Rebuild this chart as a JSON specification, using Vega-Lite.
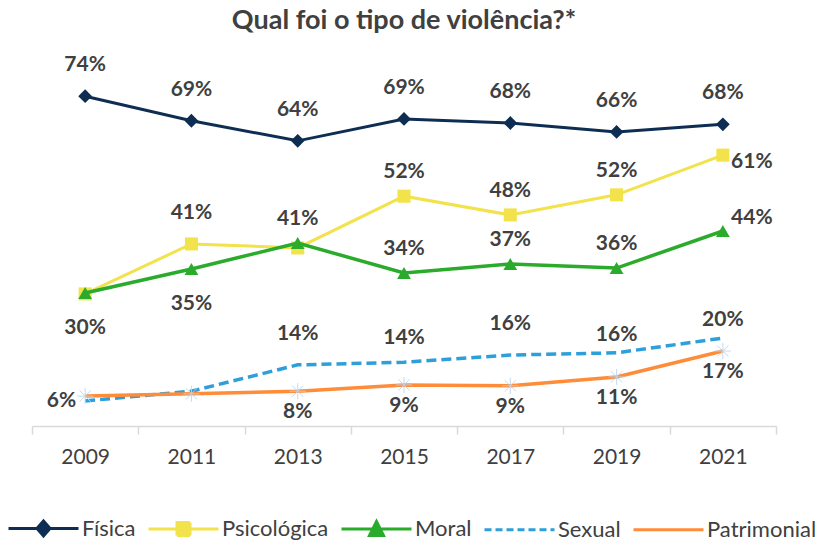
{
  "$schema": "https://vega.github.io/schema/vega-lite/v6.json",
  "width": 744,
  "height": 357,
  "autosize": {"type": "none"},
  "padding": {"left": 32, "top": 69, "right": 45, "bottom": 116},
  "title": {
    "text": "Qual foi o tipo de violência?*",
    "font": "Lato",
    "fontSize": 27,
    "fontWeight": "bold",
    "color": "#404040",
    "anchor": "middle",
    "frame": "group",
    "offset": 19
  },
  "config": {"view": {"stroke": null}, "font": "Lato"},
  "data": {
    "values": [
      {"year": "2009", "series": "Física", "value": 73.9, "label": "74%"},
      {"year": "2011", "series": "Física", "value": 68.4, "label": "69%"},
      {"year": "2013", "series": "Física", "value": 63.9, "label": "64%"},
      {"year": "2015", "series": "Física", "value": 68.8, "label": "69%"},
      {"year": "2017", "series": "Física", "value": 67.9, "label": "68%"},
      {"year": "2019", "series": "Física", "value": 65.9, "label": "66%"},
      {"year": "2021", "series": "Física", "value": 67.6, "label": "68%"},
      {"year": "2009", "series": "Psicológica", "value": 29.6, "label": "30%"},
      {"year": "2011", "series": "Psicológica", "value": 40.8, "label": "41%"},
      {"year": "2013", "series": "Psicológica", "value": 39.9, "label": "40%"},
      {"year": "2015", "series": "Psicológica", "value": 51.5, "label": "52%"},
      {"year": "2017", "series": "Psicológica", "value": 47.3, "label": "48%"},
      {"year": "2019", "series": "Psicológica", "value": 51.8, "label": "52%"},
      {"year": "2021", "series": "Psicológica", "value": 60.7, "label": "61%"},
      {"year": "2009", "series": "Moral", "value": 29.8, "label": "30%"},
      {"year": "2011", "series": "Moral", "value": 35.2, "label": "35%"},
      {"year": "2013", "series": "Moral", "value": 41.0, "label": "41%"},
      {"year": "2015", "series": "Moral", "value": 34.3, "label": "34%"},
      {"year": "2017", "series": "Moral", "value": 36.3, "label": "37%"},
      {"year": "2019", "series": "Moral", "value": 35.4, "label": "36%"},
      {"year": "2021", "series": "Moral", "value": 43.7, "label": "44%"},
      {"year": "2009", "series": "Sexual", "value": 5.6, "label": "6%"},
      {"year": "2011", "series": "Sexual", "value": 7.8, "label": "8%"},
      {"year": "2013", "series": "Sexual", "value": 13.7, "label": "14%"},
      {"year": "2015", "series": "Sexual", "value": 14.3, "label": "14%"},
      {"year": "2017", "series": "Sexual", "value": 15.9, "label": "16%"},
      {"year": "2019", "series": "Sexual", "value": 16.4, "label": "16%"},
      {"year": "2021", "series": "Sexual", "value": 19.7, "label": "20%"},
      {"year": "2009", "series": "Patrimonial", "value": 6.7, "label": "7%"},
      {"year": "2011", "series": "Patrimonial", "value": 7.2, "label": "7%"},
      {"year": "2013", "series": "Patrimonial", "value": 7.8, "label": "8%"},
      {"year": "2015", "series": "Patrimonial", "value": 9.2, "label": "9%"},
      {"year": "2017", "series": "Patrimonial", "value": 9.0, "label": "9%"},
      {"year": "2019", "series": "Patrimonial", "value": 11.0, "label": "11%"},
      {"year": "2021", "series": "Patrimonial", "value": 16.8, "label": "17%"}
    ]
  },
  "encoding": {
    "x": {
      "field": "year",
      "type": "ordinal",
      "scale": {"type": "band", "paddingInner": 0, "paddingOuter": 0},
      "axis": {
        "title": null,
        "labelAngle": 0,
        "labelFont": "Lato",
        "labelFontSize": 21,
        "labelColor": "#404040",
        "labelPadding": 12,
        "domainColor": "#d9d9d9",
        "domainWidth": 1.5,
        "tickColor": "#d9d9d9",
        "tickWidth": 1.5,
        "tickSize": 8,
        "tickBand": "extent",
        "grid": false
      }
    },
    "y": {
      "field": "value",
      "type": "quantitative",
      "scale": {"domain": [0, 80]},
      "axis": null
    }
  },
  "layer": [
    {
      "transform": [{"filter": "datum.series === 'Física'"}],
      "mark": {"type": "line", "strokeWidth": 3},
      "encoding": {
        "color": {
          "field": "series",
          "type": "nominal",
          "scale": {
            "domain": ["Física", "Psicológica", "Moral", "Sexual", "Patrimonial"],
            "range": ["#0e2d52", "#f2e24b", "#2bab2b", "#2e9fd8", "#ff8c38"]
          },
          "legend": {
            "title": null,
            "orient": "none",
            "legendX": -25,
            "legendY": 448,
            "direction": "horizontal",
            "labelFont": "Lato",
            "labelFontSize": 22,
            "labelColor": "#404040",
            "symbolSize": 400,
            "symbolStrokeWidth": 3,
            "symbolOpacity": 1,
            "labelOffset": 52,
            "columnPadding": 6,
            "encode": {
              "symbols": {
                "update": {
                  "shape": {"signal": "datum.value === 'Física' ? 'M-1,0H6M2.5,-0.75L3.15,0L2.5,0.75L1.85,0Z' : datum.value === 'Psicológica' ? 'M-1,0H6M1.85,-0.65H3.15V0.65H1.85Z' : datum.value === 'Moral' ? 'M-1,0H6M2.5,-0.75L3.2,0.65H1.8Z' : 'M-1,0H6'"},
                  "fill": {"scale": "color", "field": "value"},
                  "stroke": {"scale": "color", "field": "value"},
                  "strokeDash": {"signal": "datum.value === 'Sexual' ? [7,4] : [1,0]"},
                  "strokeWidth": {"value": 3},
                  "opacity": {"value": 1}
                }
              }
            }
          }
        }
      }
    },
    {
      "transform": [{"filter": "datum.series === 'Física'"}],
      "mark": {"type": "point", "shape": "diamond", "filled": true, "size": 190, "color": "#0e2d52", "opacity": 1}
    },
    {
      "transform": [{"filter": "datum.series === 'Psicológica'"}],
      "mark": {"type": "line", "strokeWidth": 3},
      "encoding": {"color": {"field": "series", "type": "nominal"}}
    },
    {
      "transform": [{"filter": "datum.series === 'Psicológica'"}],
      "mark": {"type": "point", "shape": "square", "filled": true, "size": 170, "color": "#f2e24b", "opacity": 1}
    },
    {
      "transform": [{"filter": "datum.series === 'Moral'"}],
      "mark": {"type": "line", "strokeWidth": 3.5},
      "encoding": {"color": {"field": "series", "type": "nominal"}}
    },
    {
      "transform": [{"filter": "datum.series === 'Moral'"}],
      "mark": {"type": "point", "shape": "triangle-up", "filled": true, "size": 190, "color": "#2bab2b", "opacity": 1}
    },
    {
      "transform": [{"filter": "datum.series === 'Sexual'"}],
      "mark": {"type": "line", "strokeWidth": 3.5, "strokeDash": [10, 5]},
      "encoding": {"color": {"field": "series", "type": "nominal"}}
    },
    {
      "transform": [{"filter": "datum.series === 'Patrimonial'"}],
      "mark": {"type": "line", "strokeWidth": 3.5},
      "encoding": {"color": {"field": "series", "type": "nominal"}}
    },
    {
      "transform": [{"filter": "datum.series === 'Patrimonial'"}],
      "mark": {"type": "point", "shape": "M-1,0H1M0,-1V1M-0.7,-0.7L0.7,0.7M-0.7,0.7L0.7,-0.7", "filled": false, "size": 256, "stroke": "#bdd7ee", "strokeWidth": 1, "opacity": 0.9}
    },
    {
      "transform": [{"filter": "datum.series === 'Física' || (datum.series === 'Psicológica' && datum.year === '2011') || (datum.series === 'Sexual' && (datum.year === '2013' || datum.year === '2017'))"}],
      "mark": {"type": "text", "dy": -31, "font": "Lato", "fontSize": 21, "fontWeight": "bold", "color": "#404040"},
      "encoding": {"text": {"field": "label"}}
    },
    {
      "transform": [{"filter": "(datum.series === 'Psicológica' && (datum.year === '2015' || datum.year === '2017' || datum.year === '2019')) || (datum.series === 'Moral' && (datum.year === '2013' || datum.year === '2015' || datum.year === '2017' || datum.year === '2019')) || (datum.series === 'Sexual' && datum.year === '2015')"}],
      "mark": {"type": "text", "dy": -24, "font": "Lato", "fontSize": 21, "fontWeight": "bold", "color": "#404040"},
      "encoding": {"text": {"field": "label"}}
    },
    {
      "transform": [{"filter": "datum.series === 'Sexual' && (datum.year === '2019' || datum.year === '2021')"}],
      "mark": {"type": "text", "dy": -18, "font": "Lato", "fontSize": 21, "fontWeight": "bold", "color": "#404040"},
      "encoding": {"text": {"field": "label"}}
    },
    {
      "transform": [{"filter": "datum.series === 'Patrimonial' && datum.year >= '2013'"}],
      "mark": {"type": "text", "dy": 21, "font": "Lato", "fontSize": 21, "fontWeight": "bold", "color": "#404040"},
      "encoding": {"text": {"field": "label"}}
    },
    {
      "transform": [{"filter": "datum.series === 'Moral' && (datum.year === '2009' || datum.year === '2011')"}],
      "mark": {"type": "text", "dy": 35, "font": "Lato", "fontSize": 21, "fontWeight": "bold", "color": "#404040"},
      "encoding": {"text": {"field": "label"}}
    },
    {
      "transform": [{"filter": "datum.series === 'Psicológica' && datum.year === '2021'"}],
      "mark": {"type": "text", "dx": 29, "dy": 7, "font": "Lato", "fontSize": 21, "fontWeight": "bold", "color": "#404040"},
      "encoding": {"text": {"field": "label"}}
    },
    {
      "transform": [{"filter": "datum.series === 'Moral' && datum.year === '2021'"}],
      "mark": {"type": "text", "dx": 29, "dy": -13, "font": "Lato", "fontSize": 21, "fontWeight": "bold", "color": "#404040"},
      "encoding": {"text": {"field": "label"}}
    },
    {
      "transform": [{"filter": "datum.series === 'Sexual' && datum.year === '2009'"}],
      "mark": {"type": "text", "dx": -9, "align": "right", "font": "Lato", "fontSize": 21, "fontWeight": "bold", "color": "#404040"},
      "encoding": {"text": {"field": "label"}}
    }
  ]
}
